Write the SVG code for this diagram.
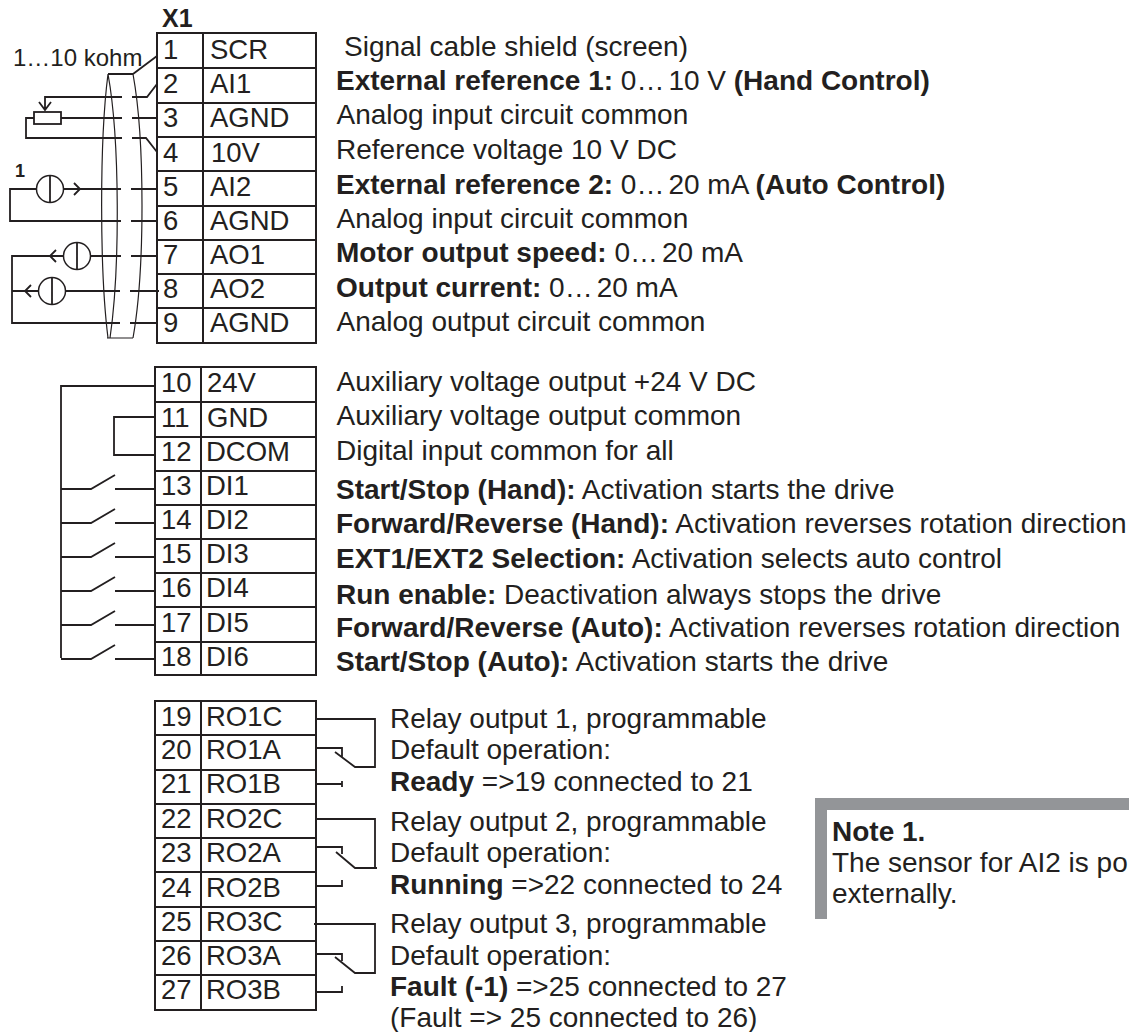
<svg xmlns="http://www.w3.org/2000/svg" width="1129" height="1032" viewBox="0 0 1129 1032">
<style>
text{font-family:"Liberation Sans",Arial,sans-serif;font-size:28px;fill:#231f20}
.l text{font-size:27.5px}
.b,tspan.b{font-weight:bold}
.e{letter-spacing:4px}
.w{fill:none;stroke:#231f20;stroke-width:1.8}
.t{fill:none;stroke:#231f20;stroke-width:2}
.s{fill:none;stroke:#231f20;stroke-width:1.2}
.c{fill:none;stroke:#231f20;stroke-width:1.5}
</style>
<rect width="1129" height="1032" fill="#fff"/>
<g id="tb1"><path class="t" d="M157 33H316V343H157ZM203 33V343M157 68H316M157 103H316M157 137H316M157 171H316M157 206H316M157 240H316M157 274H316M157 308H316"/></g>
<g id="tb2"><path class="t" d="M155 367H316V675H155ZM201 367V675M155 402H316M155 437H316M155 471H316M155 505H316M155 539H316M155 573H316M155 607H316M155 642H316"/></g>
<g id="tb3"><path class="t" d="M155 701H316V1010H155ZM201 701V1010M155 735H316M155 770H316M155 804H316M155 838H316M155 872H316M155 907H316M155 941H316M155 975H316"/></g>
<g id="labels1" class="l">
<text class="b" x="162" y="27" style="font-size:25px">X1</text>
<text x="13" y="66" style="font-size:24px">1…10 kohm</text>
<text class="b" x="15" y="177" style="font-size:18px">1</text>
<text x="163" y="59">1</text><text x="163" y="93">2</text><text x="163" y="127">3</text><text x="163" y="162">4</text><text x="163" y="196">5</text><text x="163" y="230">6</text><text x="163" y="264">7</text><text x="163" y="298">8</text><text x="163" y="332">9</text>
<text x="210" y="59">SCR</text><text x="210" y="93">AI1</text><text x="210" y="127">AGND</text><text x="211" y="162">10V</text><text x="210" y="196">AI2</text><text x="210" y="230">AGND</text><text x="210" y="264">AO1</text><text x="210" y="298">AO2</text><text x="210" y="332">AGND</text>
</g>
<g id="labels2" class="l">
<text x="161" y="392">10</text><text x="161" y="427">11</text><text x="161" y="461">12</text><text x="161" y="495">13</text><text x="161" y="529">14</text><text x="161" y="563">15</text><text x="161" y="597">16</text><text x="161" y="632">17</text><text x="161" y="666">18</text>
<text x="207" y="392">24V</text><text x="207" y="427">GND</text><text x="206" y="461">DCOM</text><text x="206" y="495">DI1</text><text x="206" y="529">DI2</text><text x="206" y="563">DI3</text><text x="206" y="597">DI4</text><text x="206" y="632">DI5</text><text x="206" y="666">DI6</text>
</g>
<g id="labels3" class="l">
<text x="161" y="726">19</text><text x="161" y="759">20</text><text x="161" y="793">21</text><text x="161" y="828">22</text><text x="161" y="862">23</text><text x="161" y="897">24</text><text x="161" y="931">25</text><text x="161" y="965">26</text><text x="161" y="999">27</text>
<text x="206" y="726">RO1C</text><text x="206" y="759">RO1A</text><text x="206" y="793">RO1B</text><text x="206" y="828">RO2C</text><text x="206" y="862">RO2A</text><text x="206" y="897">RO2B</text><text x="206" y="931">RO3C</text><text x="206" y="965">RO3A</text><text x="206" y="999">RO3B</text>
</g>
<g id="connectors">
<path class="w" d="M133 74L157 56M108 74H133"/>
<path class="s" d="M108 74C99.500 140 99.500 270 108 338M108 74C120 140 120 270 110 338M133 74C145 140 145 270 133 338M107 338H133"/>
<path class="w" d="M45 110V97H122M132 97H147L157 84M39 102L45 110L51 102"/>
<rect class="w" x="34" y="112" width="27" height="12"/>
<path class="w" d="M61 118H122M132 118H157M34 118H26V138H122M132 138H146L157 152"/>
<circle class="c" cx="50" cy="189" r="13.500"/><path class="w" d="M50 176V203M37 189H10V221H121M131 221H157M63 189H121M131 189H157M74 183L80 189L74 195"/>
<circle class="c" cx="77" cy="256" r="13.500"/><path class="w" d="M77 243V270M63 256H12V323H120M130 323H157M91 256H121M131 256H157M56 250L50 256L56 262"/>
<circle class="c" cx="52" cy="291" r="13.500"/><path class="w" d="M52 278V305M38 291H12M66 291H120M130 291H159M31 285L25 291L31 297"/>
<path class="w" d="M155 386H61V658M155 417H114V455H155"/>
<path class="w" d="M61 489H91L115 475M115 489H155M61 523H91L115 509M115 523H155M61 557H91L115 543M115 557H155M61 591H91L115 577M115 591H155M61 625H91L115 611M115 625H155M61 659H91L115 645M115 659H155"/>
<path class="w" d="M316 719H375V767H355L335 752M316 748H342V757M316 784H342M342 781V787"/>
<path class="w" d="M316 819H375V868H377M375 868H355L336 852M316 847H342V854M316 886H342V880"/>
<path class="w" d="M314 924H375V973H355L335 957M316 954H342V961M316 992H342V986"/>
</g>
<g id="desc1">
<text x="344" y="56">Signal cable shield (screen)</text>
<text x="336" y="90"><tspan class="b">External reference 1:</tspan> 0<tspan class="e">…</tspan>10 V <tspan class="b">(Hand Control)</tspan></text>
<text x="336.500" y="124">Analog input circuit common</text>
<text x="336" y="159">Reference voltage 10 V DC</text>
<text x="336" y="194"><tspan class="b">External reference 2:</tspan> 0<tspan class="e">…</tspan>20 mA <tspan class="b">(Auto Control)</tspan></text>
<text x="336.500" y="228">Analog input circuit common</text>
<text x="336" y="262"><tspan class="b">Motor output speed:</tspan> 0<tspan class="e">…</tspan>20 mA</text>
<text x="336" y="297"><tspan class="b">Output current:</tspan> 0<tspan class="e">…</tspan>20 mA</text>
<text x="336.500" y="331">Analog output circuit common</text>
</g>
<g id="desc2">
<text x="336.500" y="391">Auxiliary voltage output +24 V DC</text>
<text x="336.500" y="425">Auxiliary voltage output common</text>
<text x="336" y="460">Digital input common for all</text>
<text x="336" y="499"><tspan class="b">Start/Stop (Hand):</tspan> Activation starts the drive</text>
<text x="336" y="533"><tspan class="b">Forward/Reverse (Hand):</tspan> Activation reverses rotation direction</text>
<text x="336" y="568"><tspan class="b">EXT1/EXT2 Selection:</tspan> Activation selects auto control</text>
<text x="336" y="604"><tspan class="b">Run enable:</tspan> Deactivation always stops the drive</text>
<text x="336" y="637"><tspan class="b">Forward/Reverse (Auto):</tspan> Activation reverses rotation direction</text>
<text x="336" y="671"><tspan class="b">Start/Stop (Auto):</tspan> Activation starts the drive</text>
</g>
<g id="desc3">
<text x="390" y="728">Relay output 1, programmable</text>
<text x="390" y="759">Default operation:</text>
<text x="390" y="791"><tspan class="b">Ready</tspan> =&gt;19 connected to 21</text>
<text x="390" y="831">Relay output 2, programmable</text>
<text x="390" y="862">Default operation:</text>
<text x="390" y="894"><tspan class="b">Running</tspan> =&gt;22 connected to 24</text>
<text x="390" y="933">Relay output 3, programmable</text>
<text x="390" y="965">Default operation:</text>
<text x="390" y="996"><tspan class="b">Fault (-1)</tspan> =&gt;25 connected to 27</text>
<text x="390" y="1027">(Fault =&gt; 25 connected to 26)</text>
</g>
<g id="note">
<path fill="#939598" d="M815 798H1129V810H827V919H815Z"/>
<text class="b" x="832" y="841">Note 1.</text>
<text x="832" y="872">The sensor for AI2 is po</text>
<text x="832" y="903">externally.</text>
</g>
</svg>
